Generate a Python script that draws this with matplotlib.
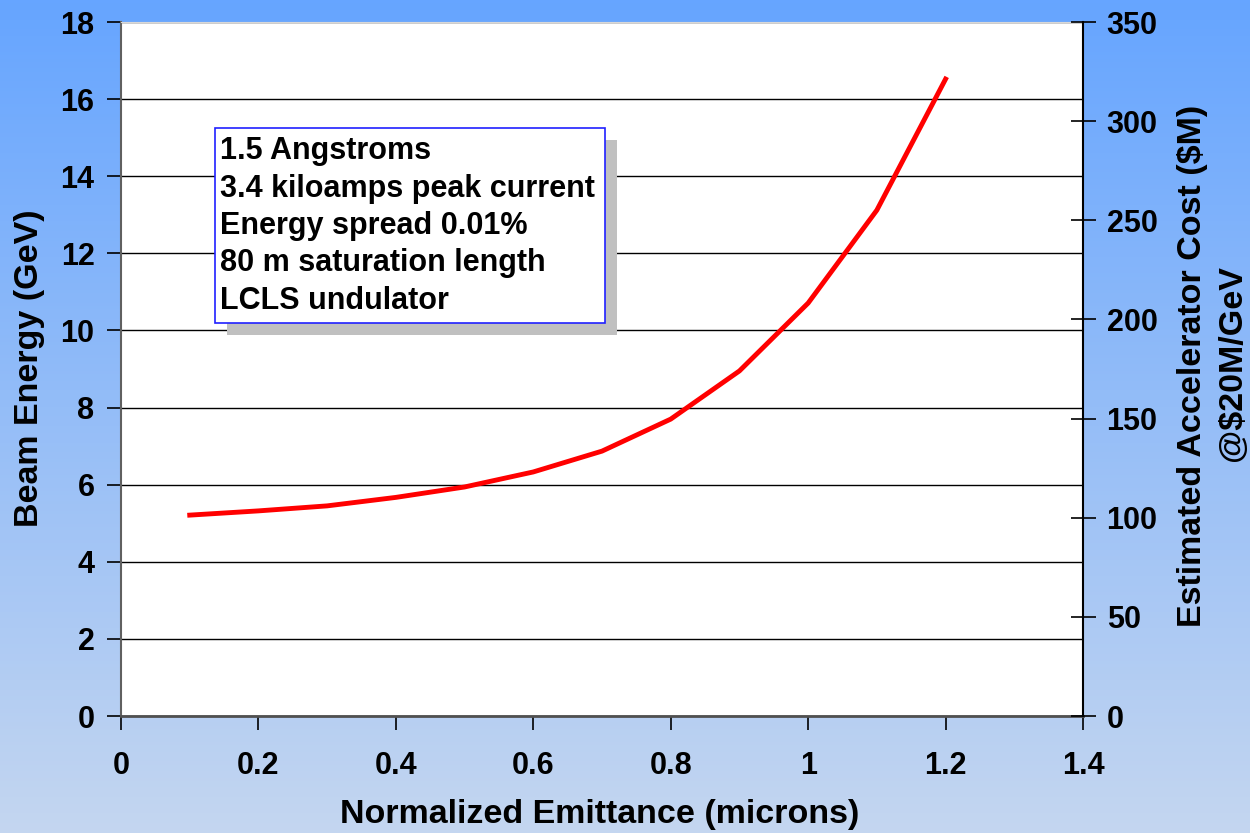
import matplotlib
matplotlib.use("Agg")
from matplotlib import pyplot as plt
from matplotlib.patches import Rectangle
import numpy as np

plt.rcParams['font.family'] = ['Liberation Sans', 'DejaVu Sans']
plt.rcParams['font.weight'] = 'bold'

# data
emittance = [0.1, 0.2, 0.3, 0.4, 0.5, 0.6, 0.7, 0.8, 0.9, 1.0, 1.1, 1.2]
beam_energy = [5.21, 5.32, 5.45, 5.67, 5.94, 6.33, 6.87, 7.70, 8.95, 10.71, 13.12, 16.52]
box_lines = ["1.5 Angstroms", "3.4 kiloamps peak current", "Energy spread 0.01%",
             "80 m saturation length", "LCLS undulator"]
x_ticks = [0, 0.2, 0.4, 0.6, 0.8, 1.0, 1.2, 1.4]
x_tick_labels = ["0", "0.2", "0.4", "0.6", "0.8", "1", "1.2", "1.4"]
y_ticks = np.arange(0, 19, 2)
cost_ticks = np.arange(0, 351, 50)

W, H = 1250, 833
fig = plt.figure(figsize=(12.5, 8.33), dpi=100)

# gradient background
bg = fig.add_axes([0, 0, 1, 1], zorder=-10)
top = np.array([102, 165, 255]) / 255
bot = np.array([196, 214, 240]) / 255
t = np.linspace(0, 1, 256)[:, None]
grad = top[None, :] * (1 - t) + bot[None, :] * t
bg.imshow(grad[:, None, :], aspect='auto', extent=[0, 1, 0, 1])
bg.axis('off')

l, r, tp, b = 121, 1083, 22, 716
ax = fig.add_axes([l / W, 1 - b / H, (r - l) / W, (b - tp) / H])
ax.set_facecolor('white')
ax.plot(emittance, beam_energy, color='#ff0000', lw=3.5, zorder=3)

ax.set_xlim(0, 1.4)
ax.set_ylim(0, 18)
ax.set_xticks(x_ticks)
ax.set_xticklabels(x_tick_labels)
ax.set_yticks(y_ticks)
ax.yaxis.grid(True, color='black', lw=1)
ax.set_axisbelow(True)
ax.tick_params(axis='x', direction='out', length=10, width=1.2, pad=15, labelsize=22, colors='black')
ax.tick_params(axis='y', direction='out', length=10, width=1.2, pad=9, labelsize=22)
for lab in ax.get_xticklabels() + ax.get_yticklabels():
    lab.set_fontweight('bold')
ax.spines['left'].set_color('#606060')
ax.spines['left'].set_linewidth(1.5)
ax.spines['bottom'].set_color('#505050')
ax.spines['bottom'].set_linewidth(2)
ax.spines['top'].set_color('#d8d8d8')
ax.spines['right'].set_visible(False)

ax2 = ax.twinx()
ax2.set_ylim(0, 350)
ax2.set_yticks(cost_ticks)
ax2.tick_params(axis='y', direction='inout', length=18, width=1.2, pad=8, labelsize=22)
for lab in ax2.get_yticklabels():
    lab.set_fontweight('bold')
for s in ['left', 'top', 'bottom']:
    ax2.spines[s].set_visible(False)
ax2.spines['right'].set_color('black')
ax2.spines['right'].set_linewidth(1.5)

# axis titles
fig.text(600 / W, 1 - 814 / H, "Normalized Emittance (microns)", fontsize=24.5,
         fontweight='bold', ha='center', va='center')
fig.text(30 / W, 1 - 368 / H, "Beam Energy (GeV)", fontsize=24.5,
         fontweight='bold', ha='center', va='center', rotation=90)
fig.text(1193 / W, 1 - 366 / H, "Estimated Accelerator Cost ($M)", fontsize=24.5,
         fontweight='bold', ha='center', va='center', rotation=90)
fig.text(1233 / W, 1 - 363 / H, "@$20M/GeV", fontsize=24.5,
         fontweight='bold', ha='center', va='center', rotation=90)

# annotation box with shadow
bx0, bx1, by0, by1 = 215, 605, 128, 323
sh = 12
def to_ax(px, py):
    return (px - l) / (r - l), (b - py) / (b - tp)
x0, y0 = to_ax(bx0 + sh, by1 + sh)
ax.add_patch(Rectangle((x0, y0), (bx1 - bx0) / (r - l), (by1 - by0) / (b - tp),
                       transform=ax.transAxes, facecolor='#c0c0c0', edgecolor='none', zorder=4))
x0, y0 = to_ax(bx0, by1)
ax.add_patch(Rectangle((x0, y0), (bx1 - bx0) / (r - l), (by1 - by0) / (b - tp),
                       transform=ax.transAxes, facecolor='white', edgecolor='#2020ff', lw=1.2, zorder=5))
for i, line in enumerate(box_lines):
    tx, ty = to_ax(220, 151 + i * 37.5)
    ax.text(tx, ty, line, transform=ax.transAxes, fontsize=22, fontweight='bold',
            va='center', ha='left', zorder=6)

fig.savefig("out.png", dpi=100)
